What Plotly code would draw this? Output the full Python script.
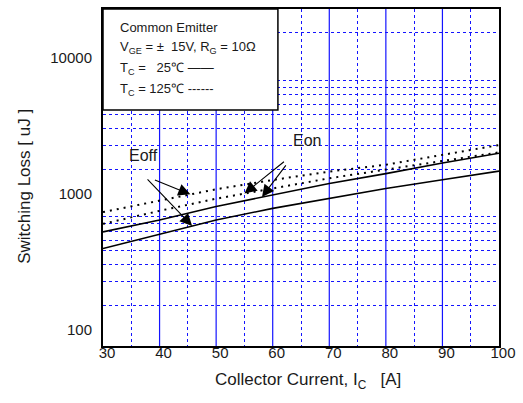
import numpy as np
import plotly.graph_objects as go

# Collector current [A]
currents = [30, 40, 50, 60, 70, 80, 90, 100]

# Switching loss [uJ]
eon_25 = [690, 845, 1060, 1295, 1565, 1850, 2215, 2610]
eoff_25 = [521, 667, 844, 1027, 1220, 1438, 1665, 1931]
eoff_125 = [965, 1175, 1420, 1660, 1915, 2150, 2530, 3000]
eon_125 = [790, 985, 1210, 1440, 1710, 1980, 2300, 2650]

y_tick_vals = [100, 1000, 10000]
y_tick_text = ["100", "1000", "10000"]
y_minor_vals = [200, 300, 400, 500, 600, 700, 800, 900,
                2000, 3000, 4000, 5000, 6000, 7000, 8000, 9000, 20000]
x_tick_vals = [30, 40, 50, 60, 70, 80, 90, 100]
x_minor_vals = [35, 45, 55, 65, 75, 85, 95]

FONT = "Liberation Sans, Arial, Helvetica, sans-serif"
TXT = "#1a1a1a"
GRID = "rgb(20,20,255)"

fig = go.Figure()

solid = dict(color="black", width=1.6)
dotted = dict(color="black", width=2, dash="2px,5px")

fig.add_trace(go.Scatter(x=currents, y=eon_25, mode="lines", line=solid, name="Eon 25"))
fig.add_trace(go.Scatter(x=currents, y=eoff_25, mode="lines", line=solid, name="Eoff 25"))
fig.add_trace(go.Scatter(x=currents, y=eoff_125, mode="lines", line=dotted, name="Eoff 125"))
fig.add_trace(go.Scatter(x=currents, y=eon_125, mode="lines", line=dotted, name="Eon 125"))


def log_on(series, x):
    """log10 of a curve at current x, for placing arrow tips on the curve."""
    return float(np.interp(x, currents, np.log10(series)))


arrow = dict(showarrow=True, text="", arrowhead=2, arrowsize=2.2, arrowwidth=1.1,
             arrowcolor="black", axref="pixel", ayref="pixel", standoff=0)

label_font = dict(family=FONT, size=16, color=TXT)
title_font = dict(family=FONT, size=17, color=TXT)
annotations = [
    dict(x=45.45, y=log_on(eoff_125, 45.45), ax=-37, ay=-15, **arrow),
    dict(x=45.75, y=log_on(eoff_25, 45.75), ax=-46, ay=-48, **arrow),
    dict(x=55.0, y=log_on(eon_125, 55.0), ax=41, ay=-33, **arrow),
    dict(x=58.1, y=log_on(eon_25, 58.1), ax=25, ay=-33, **arrow),
    dict(x=37.1, y=np.log10(2530), text="Eoff", showarrow=False, font=label_font),
    dict(x=66.0, y=np.log10(3260), text="Eon", showarrow=False, font=label_font),
    # axis titles
    dict(xref="paper", yref="paper", x=-0.198, y=0.474,
         text="Switching Loss [ uJ ]",
         xanchor="center", yanchor="middle", textangle=-90, showarrow=False, font=title_font),
    dict(xref="paper", yref="paper", x=0.517, y=-0.104,
         xanchor="center", yanchor="middle",
         text="Collector Current, I<sub>C</sub>\u00a0\u00a0 [A]", showarrow=False, font=title_font),
]

# condition box in the upper left corner
box_lines = [
    "Common Emitter",
    "V<sub>GE</sub> = \u00b1\u00a0\u00a015V, R<sub>G</sub> = 10\u03a9",
    "T<sub>C</sub> =\u00a0\u00a0\u00a025\u2103 \u2014\u2014",
    "T<sub>C</sub> = 125\u2103 ------",
]
box_y = [0.945, 0.885, 0.823, 0.761]
for txt, yy in zip(box_lines, box_y):
    annotations.append(dict(xref="paper", yref="paper", x=0.039, y=yy, text=txt,
                            xanchor="left", yanchor="middle", showarrow=False,
                            font=dict(family=FONT, size=13, color=TXT)))

# solid major grid lines
for xv in x_tick_vals[1:-1]:
    fig.add_shape(type="line", xref="x", yref="paper", x0=xv, x1=xv, y0=0, y1=1,
                  line=dict(color=GRID, width=1.2), layer="below")
for yv in y_tick_vals[1:]:
    fig.add_shape(type="line", xref="paper", yref="y", x0=0, x1=1,
                  y0=np.log10(yv), y1=np.log10(yv),
                  line=dict(color=GRID, width=1.4), layer="below")

fig.add_shape(type="rect", xref="paper", yref="paper", x0=0, x1=0.4417, y0=0.7003, y1=1,
              fillcolor="white", line=dict(color="black", width=1.5), layer="above")

fig.update_layout(
    width=523, height=403,
    margin=dict(l=103, r=17, t=7, b=57),
    paper_bgcolor="white", plot_bgcolor="white",
    showlegend=False,
    font=dict(family=FONT, size=15, color=TXT),
    annotations=annotations,
)

fig.update_xaxes(
    range=[30, 100], tickmode="array", tickvals=x_tick_vals,
    showgrid=False,
    minor=dict(tickmode="array", tickvals=x_minor_vals, showgrid=True,
               gridcolor=GRID, griddash="dot", gridwidth=1),
    showline=True, linecolor="black", linewidth=2, mirror=True,
    ticks="", ticklabelshift=4, ticklabelstandoff=-8,
    tickfont=dict(family=FONT, size=15, color=TXT),
    zeroline=False,
)

fig.update_yaxes(
    type="log", range=[2, np.log10(30000)],
    tickmode="array", tickvals=y_tick_vals, ticktext=y_tick_text,
    showgrid=False,
    minor=dict(tickmode="array", tickvals=y_minor_vals, showgrid=True,
               gridcolor=GRID, griddash="dot", gridwidth=1),
    showline=True, linecolor="black", linewidth=2, mirror=True,
    ticks="", ticklabelshift=-16, ticklabelstandoff=6,
    tickfont=dict(family=FONT, size=15, color=TXT),
    zeroline=False,
)

fig.write_html("out.html")
